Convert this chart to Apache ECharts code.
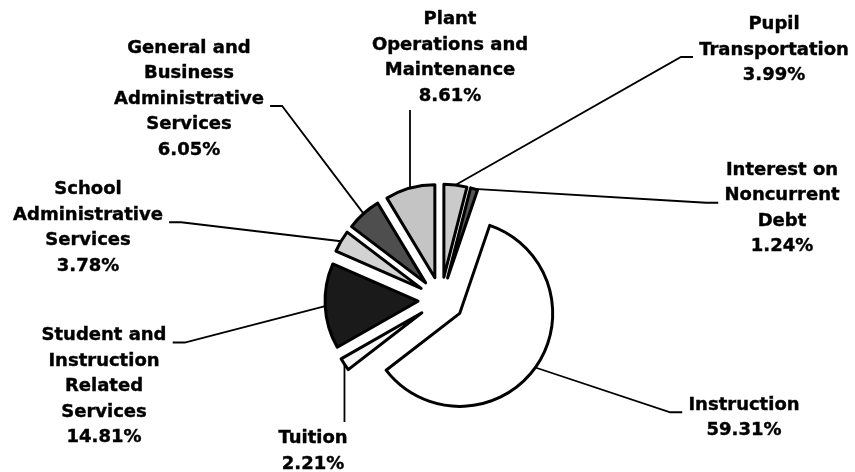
<!DOCTYPE html>
<html>
<head>
<meta charset="utf-8">
<script src="https://cdn.jsdelivr.net/npm/echarts@6/dist/echarts.min.js"></script>
<style>
  html, body { margin: 0; padding: 0; background: #fff; }
  #chart { width: 855px; height: 472px; }
</style>
</head>
<body>
<div id="chart"></div>
<script>
// slices in drawing order, clockwise from 12 o'clock
const categories = [
  "Pupil\nTransportation",
  "Interest on\nNoncurrent\nDebt",
  "Instruction",
  "Tuition",
  "Student and\nInstruction\nRelated\nServices",
  "School\nAdministrative\nServices",
  "General and\nBusiness\nAdministrative\nServices",
  "Plant\nOperations and\nMaintenance"
];
const shares = [3.99, 1.24, 59.31, 2.21, 14.81, 3.78, 6.05, 8.61];

// grey fills per slice
const fills = ["#cacaca", "#555555", "#ffffff", "#f6f6f6", "#1a1a1a", "#d2d2d2", "#4e4e4e", "#c4c4c4"];
// centre of each label block
const labelSpots = [
  [774, 50], [782, 208.5], [744, 418], [313, 451.5],
  [104, 386.5], [88, 228], [189, 99], [450, 58]
];
// which side of the label the leader line meets, and on which text row
const labelHooks = [
  { side: "left", row: 1 }, { side: "left", row: 1 }, { side: "left", row: 0 },
  { side: "top" }, { side: "right", row: 0 }, { side: "right", row: 1 },
  { side: "right", row: 2 }, { side: "bottom" }
];

const pieCenter = [441, 300];
const pieRadius = 93;
const explode = 23; // every slice is pulled out by the same distance
const lineH = 25.5;

const chart = echarts.init(document.getElementById("chart"));

const total = shares.reduce((a, b) => a + b, 0);
let acc = 0;

// place a label block and bend its leader line onto it
const placeLabel = (p) => {
  const [cx, cy] = labelSpots[p.dataIndex];
  const base = { x: cx, y: cy, align: "center", verticalAlign: "middle" };
  const start = p.labelLinePoints && p.labelLinePoints[0];
  if (!start || !p.labelRect) return base; // hidden label

  const w = p.labelRect.width;
  const h = p.labelRect.height;
  const top = cy - h / 2;
  const hook = labelHooks[p.dataIndex];
  let pts;
  if (hook.side === "left" || hook.side === "right") {
    const y = top + (hook.row + 0.5) * lineH + 7;
    const dir = hook.side === "left" ? -1 : 1;
    const x = cx + dir * (w / 2 + 6);
    pts = [start, [x + dir * 12, y], [x, y]];
  } else {
    const y = hook.side === "top" ? top - 4 : cy + h / 2 + 1;
    pts = [start, [start[0], y]];
  }
  base.labelLinePoints = pts;
  return base;
};

// one pie per slice so each can sit on its own pulled-out centre;
// the other slices in that pie are left invisible
const series = shares.map((v, i) => {
  const mid = ((acc + v / 2) / total) * 2 * Math.PI; // clockwise from 12 o'clock
  acc += v;
  return {
    type: "pie",
    center: [
      pieCenter[0] + explode * Math.sin(mid),
      pieCenter[1] - explode * Math.cos(mid),
    ],
    radius: pieRadius,
    startAngle: 90,
    clockwise: true,
    avoidLabelOverlap: false,
    silent: true,
    emphasis: { disabled: true },
    label: {
      position: "outside",
      formatter: (p) => p.name + "\n" + p.value.toFixed(2) + "%",
      fontFamily: "DejaVu Sans",
      fontWeight: "bold",
      fontSize: 18,
      lineHeight: lineH,
      color: "#000",
      textBorderColor: "#000",
      textBorderWidth: 0.4,
      align: "center",
    },
    labelLine: {
      length: 10,
      length2: 12,
      lineStyle: { color: "#000", width: 1.8 },
    },
    labelLayout: placeLabel,
    data: categories.map((name, j) => ({
      name: name,
      value: shares[j],
      itemStyle:
        j === i
          ? { color: fills[j], borderColor: "#000", borderWidth: 3 }
          : { color: "transparent", borderWidth: 0 },
      label: { show: j === i },
      labelLine: { show: j === i },
    })),
  };
});

chart.setOption({
  backgroundColor: "#fff",
  animation: false,
  series: series,
});
</script>
</body>
</html>
